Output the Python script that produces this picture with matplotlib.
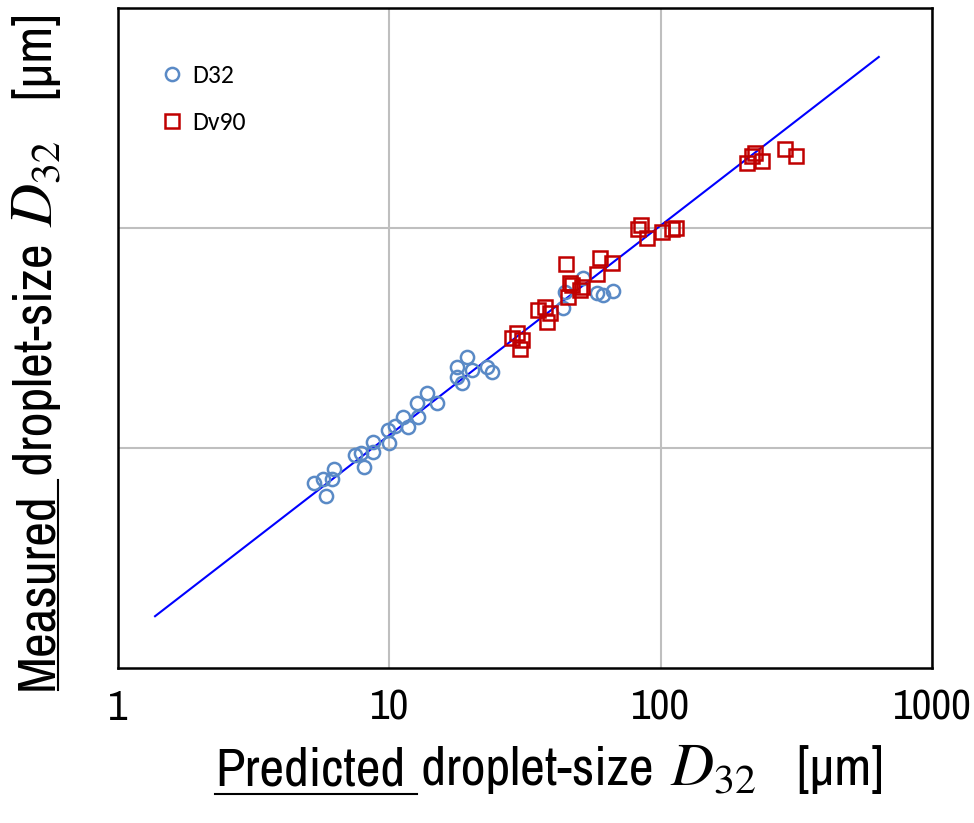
import matplotlib
matplotlib.use("Agg")
import matplotlib.pyplot as plt
from matplotlib.lines import Line2D

# predicted vs measured droplet size [um]
d32_pred = [5.3, 5.7, 6.25, 5.85, 6.15, 7.5, 7.9, 8.1, 8.7, 8.7, 9.9, 10.0, 10.5,
            11.2, 11.7, 12.7, 12.8, 13.8, 15.0, 17.8, 17.8, 19.3, 18.5, 20.2,
            22.9, 23.9, 44.4, 51.8, 43.6, 58.3, 61.3, 66.8]
d32_meas = [6.9, 7.2, 8.0, 6.05, 7.2, 9.3, 9.5, 8.2, 10.6, 9.6, 12.1, 10.5, 12.6,
            13.8, 12.5, 16.0, 13.8, 17.8, 16.0, 23.4, 21.0, 25.9, 19.7, 22.6,
            23.4, 22.2, 51.2, 59.3, 43.3, 50.7, 49.6, 51.7]

dv90_pred = [28.3, 29.6, 30.8, 30.3, 35.3, 37.5, 39.1, 38.1, 44.8, 46.4, 47.1,
             51.3, 50.4, 45.6, 59.8, 66.2, 58.3, 84.7, 82.5, 89.1, 101, 110, 114,
             208, 217, 223, 236, 288, 316]
dv90_meas = [31.6, 33.3, 31.0, 28.2, 42.4, 43.7, 41.1, 37.4, 68.6, 56.2, 55.1,
             53.9, 52.2, 48.6, 73.1, 69.3, 61.8, 103, 98.9, 90.1, 95.9, 98.9, 100,
             197, 212, 219, 202, 229, 212]

# fitted correlation line (end points)
fit_x = [1.37, 637]
fit_y = [1.72, 599]

x_ticks = [1, 10, 100, 1000]
x_ticklabels = ["1", "10", "100", "1000"]

plt.rcParams["font.family"] = ["Archivo Narrow", "DejaVu Sans"]
plt.rcParams["font.stretch"] = "condensed"
plt.rcParams["mathtext.fontset"] = "stix"

W, H = 974, 823
fig = plt.figure(figsize=(W / 100, H / 100), dpi=100)
ax = fig.add_axes([0.1211, 0.1883, 0.8357, 0.802])

ax.plot(fit_x, fit_y, color="#0000FF", lw=1.5, zorder=2)
ax.plot(d32_pred, d32_meas, "o", ms=9.5, mfc="none", mec="#5A8AC6", mew=1.8,
        zorder=3, label="D32")
ax.plot(dv90_pred, dv90_meas, "s", ms=10.5, mfc="none", mec="#C00000", mew=1.8,
        zorder=3, label="Dv90")

ax.set_xscale("log")
ax.set_yscale("log")
ax.set_xlim(1, 1000)
ax.set_ylim(1, 1000)
ax.set_xticks(x_ticks)
ax.set_xticklabels(x_ticklabels, fontsize=31)
ax.set_yticks([10, 100])
ax.set_yticklabels([])
ax.minorticks_off()
ax.tick_params(length=0, pad=15)
ax.grid(True, color="#BFBFBF", lw=1.5)
ax.set_axisbelow(True)
for s in ax.spines.values():
    s.set_linewidth(1.8)
    s.set_color("black")

ax.legend(loc="upper left", bbox_to_anchor=(0.035, 0.935), frameon=False,
          borderpad=0, labelspacing=0.95, handlelength=1.0, handletextpad=0.3,
          prop={"family": ["Carlito", "Lato"], "size": 18.5})

# axis labels, built from pieces so the first word can be underlined
fig.canvas.draw()
r = fig.canvas.get_renderer()
fs = 39
pieces = [("Predicted", fs), (" droplet-size ", fs), (r"$D_{32}$", fs * 1.1),
          ("   [µm]", fs)]


def label_run(x0, y0, rot, first):
    """place text pieces one after another, return extents of the first two"""
    pos = x0 if rot == 0 else y0
    ext = []
    for i, (s, size) in enumerate(pieces):
        if i == 0:
            s = first
        if rot == 0:
            t = fig.text(pos / W, y0 / H, s, fontsize=size, va="baseline", ha="left")
        else:
            t = fig.text(x0 / W, pos / H, s, fontsize=size, rotation=90,
                         va="baseline", ha="left", rotation_mode="anchor")
        bb = t.get_window_extent(r)
        ext.append(bb)
        pos = (bb.x1 if rot == 0 else bb.y1) + 4
    return ext


bb = label_run(215, H - 785, 0, "Predicted")
uy = (H - 794) / H
fig.add_artist(Line2D([bb[0].x0 / W, (bb[0].x1 + 12) / W], [uy, uy],
                      color="black", lw=1.5, transform=fig.transFigure))

bb2 = label_run(52, H - 690, 90, "Measured")
ux = 58 / W
fig.add_artist(Line2D([ux, ux], [bb2[0].y0 / H, (bb2[0].y1 + 12) / H],
                      color="black", lw=1.5, transform=fig.transFigure))

fig.savefig("out.png", dpi=100)
